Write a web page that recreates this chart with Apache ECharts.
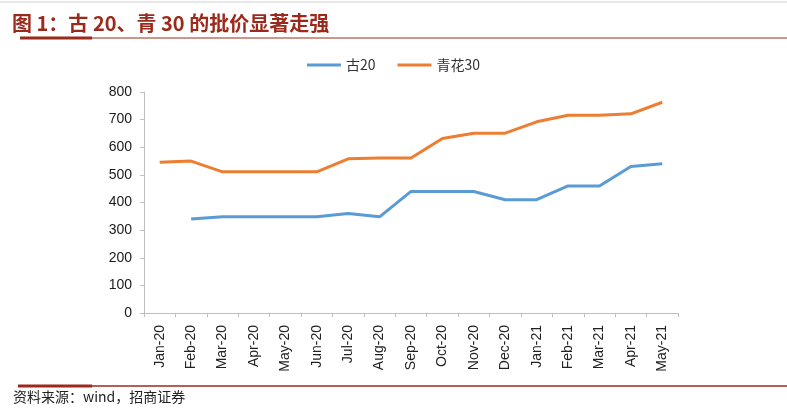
<!DOCTYPE html>
<html><head><meta charset="utf-8">
<script src="https://cdn.jsdelivr.net/npm/echarts@6/dist/echarts.min.js"></script>
<style>html,body{margin:0;padding:0;background:#fff}#c{width:787px;height:411px}</style>
</head><body><div id="c"></div>
<script>
var categories = ['Jan-20','Feb-20','Mar-20','Apr-20','May-20','Jun-20','Jul-20','Aug-20','Sep-20','Oct-20','Nov-20','Dec-20','Jan-21','Feb-21','Mar-21','Apr-21','May-21'];
var gu20 = [null,340,348,348,348,348,360,348,440,440,440,410,410,460,460,530,540];
var qinghua30 = [546,550,511,511,511,511,558,561,561,632,651,651,692,716,716,721,763];
var yTicks = [0,100,200,300,400,500,600,700,800];
var titleText = '图 1：古 20、青 30 的批价显著走强';
var sourceText = '资料来源：wind，招商证券';

var chart = echarts.init(document.getElementById('c'));
var dark = '#9c2a1c';
chart.setOption({
  animation: false,
  backgroundColor: '#fff',
  grid: {left: 144, right: 109, top: 92, bottom: 98, containLabel: false},
  legend: {
    top: 53, left: 'center', itemWidth: 34, itemHeight: 3, itemGap: 22,
    icon: 'rect',
    textStyle: {fontFamily: 'Noto Sans CJK SC', fontSize: 14, color: '#333'},
    data: ['古20','青花30']
  },
  xAxis: {
    type: 'category', data: categories, boundaryGap: true,
    axisLine: {lineStyle: {color: '#bfbfbf'}},
    axisTick: {show: true, alignWithLabel: false, lineStyle: {color: '#bfbfbf'}, length: 4},
    axisLabel: {rotate: 90, interval: 0, fontFamily: 'Liberation Sans', fontSize: 14, color: '#222', margin: 12}
  },
  yAxis: {
    type: 'value', min: yTicks[0], max: yTicks[yTicks.length-1], interval: 100,
    splitLine: {show: false},
    axisLine: {show: true, lineStyle: {color: '#bfbfbf'}},
    axisTick: {show: true, inside: false, length: 4, lineStyle: {color: '#bfbfbf'}},
    axisLabel: {fontFamily: 'Liberation Sans', fontSize: 14, color: '#1a1a1a', margin: 12}
  },
  series: [
    {name: '古20', type: 'line', data: gu20, symbol: 'none', connectNulls: false,
     lineStyle: {color: '#5B9BD5', width: 3}, itemStyle: {color: '#5B9BD5'}},
    {name: '青花30', type: 'line', data: qinghua30, symbol: 'none',
     lineStyle: {color: '#ED7D31', width: 3}, itemStyle: {color: '#ED7D31'}}
  ],
  graphic: [
    {type: 'line', shape: {x1: 0, y1: 2, x2: 787, y2: 2}, style: {stroke: '#d0d0d0', lineWidth: 1}},
    {type: 'text', left: 12, top: 13, style: {text: titleText, font: 'bold 20px "Noto Sans CJK SC"', fill: dark}},
    {type: 'line', shape: {x1: 20, y1: 38, x2: 787, y2: 38}, style: {stroke: dark, lineWidth: 1}},
    {type: 'line', shape: {x1: 20, y1: 38, x2: 92, y2: 38}, style: {stroke: dark, lineWidth: 3}},
    {type: 'line', shape: {x1: 18, y1: 386, x2: 787, y2: 386}, style: {stroke: dark, lineWidth: 1.5}},
    {type: 'line', shape: {x1: 18, y1: 386, x2: 92, y2: 386}, style: {stroke: dark, lineWidth: 3}},
    {type: 'text', left: 13, top: 390, style: {text: sourceText, font: '14px "Noto Sans CJK SC"', fill: '#222'}}
  ]
});
</script></body></html>
